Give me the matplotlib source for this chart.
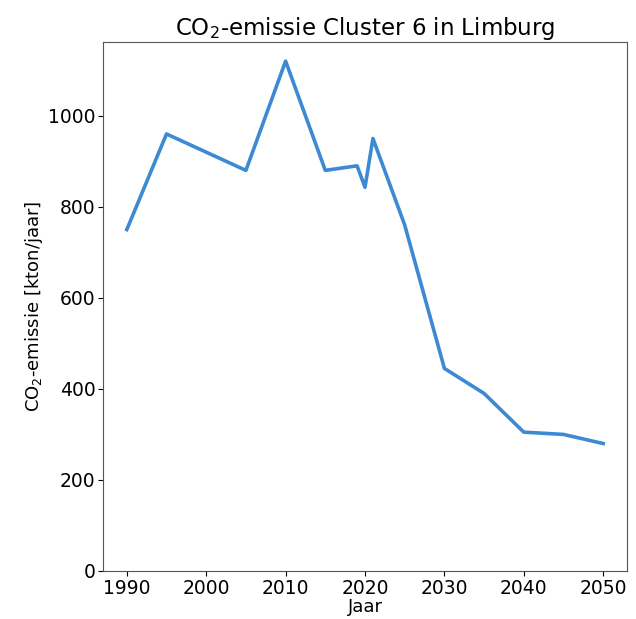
import matplotlib
matplotlib.use("Agg")
import matplotlib.pyplot as plt

years = [1990, 1995, 2005, 2010, 2015, 2019, 2020, 2021, 2025, 2030, 2035, 2040, 2045, 2050]
emissions = [750, 960, 880, 1120, 880, 890, 843, 950, 760, 445, 390, 305, 300, 280]
title = "CO$_2$-emissie Cluster 6 in Limburg"
xlabel = "Jaar"
ylabel = "CO$_2$-emissie [kton/jaar]"

plt.rcParams['font.family'] = ['DejaVu Sans']
plt.rcParams['mathtext.default'] = 'regular'

fig = plt.figure(figsize=(6.36, 6.19), dpi=100)
ax = fig.add_axes([103/636, 48/619, 524/636, 529/619])
ax.plot(years, emissions, color='#3d8ad3', linewidth=2.6)
ax.set_ylim(0, None)
ax.set_xticks([1990, 2000, 2010, 2020, 2030, 2040, 2050])
ax.set_yticks([0, 200, 400, 600, 800, 1000])
ax.tick_params(labelsize=13.5, pad=2)
ax.set_title(title, fontsize=16.5, pad=5)
ax.set_xlabel(xlabel, fontsize=13, labelpad=0)
ax.set_ylabel(ylabel, fontsize=13, labelpad=2)
for s in ax.spines.values():
    s.set_color('#555555')
fig.savefig("out.png", dpi=100)
